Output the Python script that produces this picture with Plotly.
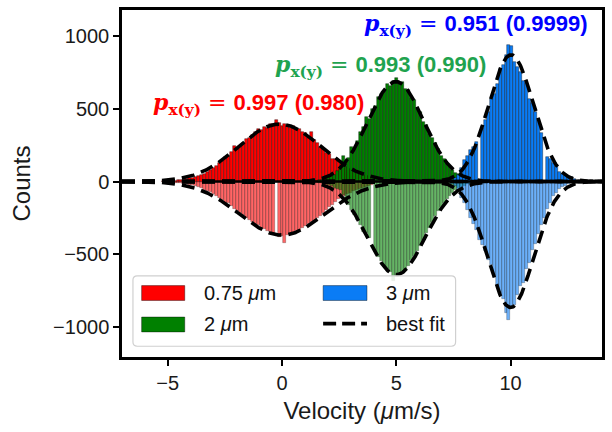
import numpy as np
import plotly.graph_objects as go

# ---------------- data ----------------
BIN_W = 0.13
red_start, green_start, blue_start = -5.2, 1.5, 7.2

# x-velocity counts (plotted upward) and y-velocity counts (plotted downward)
red_x_counts = [2, 3, 5, 4, 7, 9, 8, 12, 15, 21,
                24, 30, 37, 44, 55, 68, 78, 95, 110, 127,
                142, 168, 176, 204, 242, 226, 247, 262, 291, 299,
                318, 338, 364, 352, 377, 369, 392, 398, 426, 404,
                383, 397, 389, 371, 378, 352, 360, 341, 330, 302,
                340, 282, 264, 236, 226, 196, 190, 158, 152, 141,
                118, 92, 101, 86, 72, 66, 58, 50, 44, 38, 32]
red_y_counts = [3, 4, 3, 6, 8, 9, 12, 14, 17, 22,
                27, 33, 38, 47, 56, 68, 74, 88, 102, 114,
                127, 144, 150, 170, 186, 205, 216, 232, 250, 262,
                281, 292, 300, 318, 327, 338, 349, 362, 0, 380,
                374, 421, 368, 356, 362, 337, 331, 318, 303, 292,
                276, 270, 250, 237, 214, 196, 178, 162, 140, 118,
                110, 98, 88, 76, 66, 58, 49, 42, 35, 30, 25]
green_x_counts = [6, 8, 14, 20, 28, 41, 48, 70, 88, 176,
                  131, 162, 238, 226, 281, 341, 372, 443, 430, 501,
                  516, 580, 598, 622, 668, 656, 690, 709, 672, 681,
                  637, 628, 574, 561, 498, 478, 410, 386, 328, 300,
                  262, 221, 176, 158, 120, 98, 82, 62, 50, 38,
                  30, 22, 16, 12, 8]
green_y_counts = [5, 9, 12, 18, 26, 33, 44, 52, 60, 90,
                  130, 158, 196, 232, 262, 300, 346, 352, 388, 0,
                  486, 520, 548, 590, 600, 618, 680, 652, 640, 618,
                  605, 577, 540, 514, 478, 440, 402, 356, 318, 280,
                  240, 204, 175, 146, 118, 96, 76, 60, 46, 36,
                  28, 20, 15, 11, 8]
blue_x_counts = [0, 4, 10, 22, 48, 91, 150, 172, 215, 240,
                 274, 0, 365, 420, 478, 565, 600, 668, 770, 800,
                 866, 936, 930, 818, 790, 752, 690, 680, 570, 540,
                 478, 420, 330, 0, 170, 155, 125, 110, 68, 50,
                 45, 36, 30, 15, 6]
blue_y_counts = [2, 6, 14, 30, 58, 110, 150, 196, 250, 290,
                 330, 400, 436, 480, 540, 575, 650, 720, 770, 810,
                 900, 954, 870, 850, 780, 720, 700, 600, 560, 470,
                 430, 360, 300, 250, 190, 150, 100, 80, 52, 40,
                 28, 18, 10, 6, 3]

# Gaussian best-fit parameters (amplitude, centre, sigma)
fit_red_x = (395, -0.10, 1.80)
fit_red_y = (368, 0.00, 1.86)
fit_green_x = (686, 4.98, 1.22)
fit_green_y = (640, 5.00, 1.25)
fit_blue_x = (870, 10.02, 0.98)
fit_blue_y = (865, 10.00, 1.00)

series_labels = ["0.75 <i>\u03bc</i>m", "2 <i>\u03bc</i>m", "3 <i>\u03bc</i>m"]
p_values = [("0.997", "0.980"), ("0.993", "0.990"), ("0.951", "0.9999")]

X_RANGE = [-7, 14]
Y_RANGE = [-1205, 1178]

# ---------------- styles ----------------
COL_POS = ["#ff0000", "#008000", "#0a7cf5"]
COL_NEG = ["rgba(255,0,0,0.6)", "rgba(0,128,0,0.6)", "rgba(10,124,245,0.6)"]
TXT_COL = ["#ff0000", "#1fa34f", "#0000ff"]
FONT = "Liberation Sans, Arial, Helvetica, sans-serif"

def centers(start, n):
    return start + BIN_W * np.arange(n)

fig = go.Figure()
groups = [(red_start, red_x_counts, red_y_counts),
          (green_start, green_x_counts, green_y_counts),
          (blue_start, blue_x_counts, blue_y_counts)]
for k, (st, cx, cy) in enumerate(groups):
    xc = centers(st, len(cx))
    fig.add_trace(go.Bar(x=xc, y=cx, width=BIN_W, showlegend=False,
                         marker=dict(color=COL_POS[k],
                                     line=dict(color="rgba(0,0,0,0.6)", width=0.6))))
    xc2 = centers(st, len(cy))
    fig.add_trace(go.Bar(x=xc2, y=-np.array(cy), width=BIN_W, showlegend=False,
                         marker=dict(color=COL_NEG[k],
                                     line=dict(color="rgba(0,0,0,0.4)", width=0.6))))

xf = np.linspace(X_RANGE[0], X_RANGE[1], 800)
for (a, m, s), sign in [(fit_red_x, 1), (fit_red_y, -1), (fit_green_x, 1),
                        (fit_green_y, -1), (fit_blue_x, 1), (fit_blue_y, -1)]:
    fig.add_trace(go.Scatter(x=xf, y=sign * a * np.exp(-(xf - m) ** 2 / (2 * s ** 2)),
                             mode="lines", showlegend=False,
                             line=dict(color="black", width=3.6, dash="13px,7px")))

# zero baseline (edges of empty bins)
fig.add_shape(type="line", xref="x", yref="y", x0=-3.1, x1=X_RANGE[1], y0=0, y1=0,
              line=dict(color="black", width=2.5), layer="above")

# p-value annotations
ann_pos = [(0.508, 0.729), (0.7635, 0.840), (0.975, 0.957)]
for k, (px, py) in enumerate(ann_pos):
    a, b = p_values[k]
    txt = ("<span style='font-family:DejaVu Serif'><b><i>p</i></b><sub><b>x(y)</b></sub> = </span>"
           f"<b>{a} ({b})</b>")
    fig.add_annotation(x=px, y=py, xref="paper", yref="paper", xanchor="right",
                       yanchor="middle", text=txt, showarrow=False,
                       font=dict(family=FONT, size=22, color=TXT_COL[k]))

# custom legend (matplotlib style)
x0, x1, y0, y1 = 0.0228, 0.695, 0.031, 0.234
rx, ry = 0.009, 0.012
path = (f"M {x0+rx},{y0} L {x1-rx},{y0} Q {x1},{y0} {x1},{y0+ry} L {x1},{y1-ry} "
        f"Q {x1},{y1} {x1-rx},{y1} L {x0+rx},{y1} Q {x0},{y1} {x0},{y1-ry} "
        f"L {x0},{y0+ry} Q {x0},{y0} {x0+rx},{y0} Z")
fig.add_shape(type="path", path=path, xref="paper", yref="paper",
              line=dict(color="#d0d0d0", width=1.2), fillcolor="rgba(255,255,255,0.85)",
              layer="above")
patches = [(0.0409, 0.1307, 0.163, 0.2057, COL_POS[0]),
           (0.0409, 0.1307, 0.0723, 0.1151, COL_POS[1]),
           (0.419, 0.5104, 0.163, 0.2057, COL_POS[2])]
for (a0, a1, b0, b1, c) in patches:
    fig.add_shape(type="rect", xref="paper", yref="paper", x0=a0, x1=a1, y0=b0, y1=b1,
                  fillcolor=c, line=dict(color="rgba(0,0,0,0.5)", width=0.8), layer="above")
fig.add_shape(type="line", xref="paper", yref="paper", x0=0.419, x1=0.5104,
              y0=0.0963, y1=0.0963, line=dict(color="black", width=3.6, dash="13px,6px"),
              layer="above")
leg_text = [(0.1674, 0.1843, series_labels[0]), (0.1674, 0.0943, series_labels[1]),
            (0.5456, 0.1843, series_labels[2]), (0.5456, 0.0943, "best fit")]
for (lx, ly, t) in leg_text:
    fig.add_annotation(x=lx, y=ly, xref="paper", yref="paper", xanchor="left",
                       yanchor="middle", text=t, showarrow=False,
                       font=dict(family=FONT, size=20, color="#111111"))

axis_common = dict(showline=True, mirror=True, linecolor="black", linewidth=2.5,
                   ticks="outside", ticklen=6, tickwidth=2, tickcolor="black",
                   showgrid=False, zeroline=False,
                   tickfont=dict(family=FONT, size=20, color="#1a1a1a"))
fig.update_layout(
    width=612, height=432,
    margin=dict(l=122, r=8, t=7, b=75),
    paper_bgcolor="white", plot_bgcolor="white",
    barmode="overlay", bargap=0,
    xaxis=dict(range=X_RANGE, tickvals=[-5, 0, 5, 10],
               title=dict(text="Velocity (<i>\u03bc</i>m/s)", standoff=10,
                          font=dict(family=FONT, size=24, color="#1a1a1a")),
               **axis_common),
    yaxis=dict(range=Y_RANGE, tickvals=[-1000, -500, 0, 500, 1000],
               title=dict(text="Counts", standoff=16,
                          font=dict(family=FONT, size=24, color="#1a1a1a")),
               **axis_common),
)

fig.write_html("out.html")
